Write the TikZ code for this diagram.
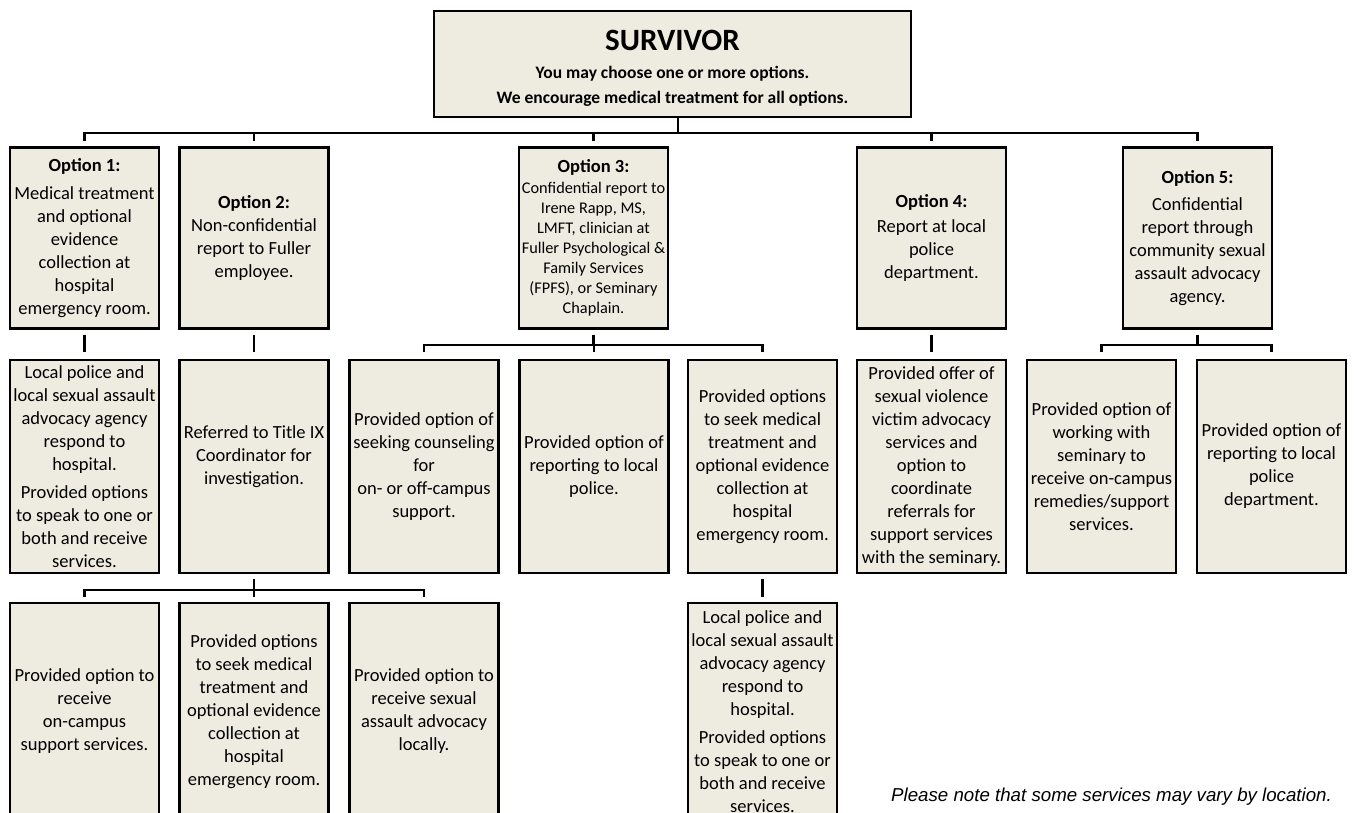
\documentclass[tikz,border=0pt]{standalone}
\usepackage{fontspec}
\setmainfont{Carlito}
\newfontfamily\notefont{Liberation Sans}
\definecolor{boxfill}{HTML}{EEECE1}
\begin{document}
\begin{tikzpicture}[x=1pt,y=-1pt,
  box/.style={draw=black, line width=2.2pt, fill=boxfill, align=center, inner sep=1pt,
    font=\fontsize{18.5}{23}\selectfont},
  opt/.style={box, minimum width=149pt, minimum height=181pt},
  sub/.style={box, minimum width=149pt, minimum height=213pt},
  low/.style={box, minimum width=149pt, minimum height=217pt},
  conn/.style={line width=2.2pt, line join=miter}]
\useasboundingbox (0,0) rectangle (1355,813);
\clip (0,0) rectangle (1355,813);

% top box
\node[box, minimum width=477pt, minimum height=106pt] (surv) at (672.5,64) {};
\node[anchor=base, font=\bfseries\fontsize{31}{31}\selectfont, inner sep=0pt] (survT) at (672.5,51) {SURVIVOR};
\node[anchor=base, align=center, font=\bfseries\fontsize{17.5}{25}\selectfont, inner sep=0pt] (survS) at (672.5,104)
  {You may choose one or more options.\\We encourage medical treatment for all options.};

% options
\node[opt] (o1) at (84.5,238) {\textbf{Option 1:}\\[5pt]Medical treatment\\and optional\\evidence\\collection at\\hospital\\emergency room.};
\node[opt] (o2) at (254,238) {\textbf{Option 2:}\\Non-confidential\\report to Fuller\\employee.};
\node[opt, font=\fontsize{16.3}{20}\selectfont] (o3) at (593.5,238) {\fontsize{18.5}{20}\selectfont\textbf{Option 3:}\fontsize{16.3}{20}\selectfont\\[1pt]Confidential report to\\Irene Rapp, MS,\\LMFT, clinician at\\Fuller Psychological \&\\Family Services\\(FPFS), or Seminary\\Chaplain.};
\node[opt] (o4) at (931.5,238) {\textbf{Option 4:}\\[2pt]Report at local\\police\\department.};
\node[opt] (o5) at (1197.5,238) {\textbf{Option 5:}\\[4pt]Confidential\\report through\\community sexual\\assault advocacy\\agency.};

% second row
\node[sub] (r1a) at (84.5,466.5) {Local police and\\local sexual assault\\advocacy agency\\respond to\\hospital.\\[5pt]Provided options\\to speak to one or\\both and receive\\services.};
\node[sub] (r2a) at (254,466.5) {Referred to Title IX\\Coordinator for\\investigation.\\~};
\node[sub] (r3a) at (424,466.5) {Provided option of\\seeking counseling\\for\\on- or off-campus\\support.};
\node[sub] (r3b) at (594,466.5) {Provided option of\\reporting to local\\police.};
\node[sub] (r3c) at (762.5,466.5) {Provided options\\to seek medical\\treatment and\\optional evidence\\collection at\\hospital\\emergency room.};
\node[sub] (r4a) at (931.5,466.5) {Provided offer of\\sexual violence\\victim advocacy\\services and\\option to\\coordinate\\referrals for\\support services\\with the seminary.};
\node[sub] (r5a) at (1101.5,466.5) {Provided option of\\working with\\seminary to\\receive on-campus\\remedies/support\\services.};
\node[sub] (r5b) at (1271.5,466.5) {Provided option of\\reporting to local\\police\\department.};

% third row
\node[low] (r2b1) at (84.5,711.5) {Provided option to\\receive\\on-campus\\support services.};
\node[low] (r2b2) at (254,711.5) {Provided options\\to seek medical\\treatment and\\optional evidence\\collection at\\hospital\\emergency room.};
\node[low] (r2b3) at (424,711.5) {Provided option to\\receive sexual\\assault advocacy\\locally.};
\node[low] (r3d) at (762.5,711.5) {Local police and\\local sexual assault\\advocacy agency\\respond to\\hospital.\\[5pt]Provided options\\to speak to one or\\both and receive\\services.};

% note
\node[anchor=base west, inner sep=0pt, font=\notefont\itshape\fontsize{18.7}{21}\selectfont] (note) at (891,801)
  {Please note that some services may vary by location.};

% connectors
\coordinate (t0) at (678,133);
\draw[conn] (t0 |- surv.south) -- (t0);
\draw[conn, shorten <=5pt, shorten >=5pt] (o1.north) |- (t0) -| (o5.north);
\draw[conn, shorten <=5pt] (o2.north) -- (o2.north |- t0);
\draw[conn, shorten <=5pt] (o3.north) -- (o3.north |- t0);
\draw[conn, shorten <=5pt] (o4.north) -- (o4.north |- t0);

\draw[conn, shorten <=5pt, shorten >=7pt] (o1) -- (r1a);
\draw[conn, shorten <=5pt, shorten >=7pt] (o2) -- (r2a);
\draw[conn, shorten <=5pt, shorten >=7pt] (o4) -- (r4a);

\coordinate (t3) at (593.5,345);
\draw[conn, shorten <=5pt] (o3.south) -- (t3);
\draw[conn, shorten <=7pt, shorten >=7pt] (r3a.north) |- (t3) -| (r3c.north);
\draw[conn, shorten <=7pt] (r3b.north) -- (r3b.north |- t3);

\coordinate (t5) at (1197.5,345);
\draw[conn, shorten <=5pt] (o5.south) -- (t5);
\draw[conn, shorten <=7pt, shorten >=7pt] (r5a.north) |- (t5) -| (r5b.north);

\coordinate (t2) at (254,590);
\draw[conn, shorten <=5pt] (r2a.south) -- (t2);
\draw[conn, shorten <=5pt, shorten >=5pt] (r2b1.north) |- (t2) -| (r2b3.north);
\draw[conn, shorten <=5pt] (r2b2.north) -- (r2b2.north |- t2);

\draw[conn, shorten <=5pt, shorten >=5pt] (r3c) -- (r3d);
\end{tikzpicture}
\end{document}
